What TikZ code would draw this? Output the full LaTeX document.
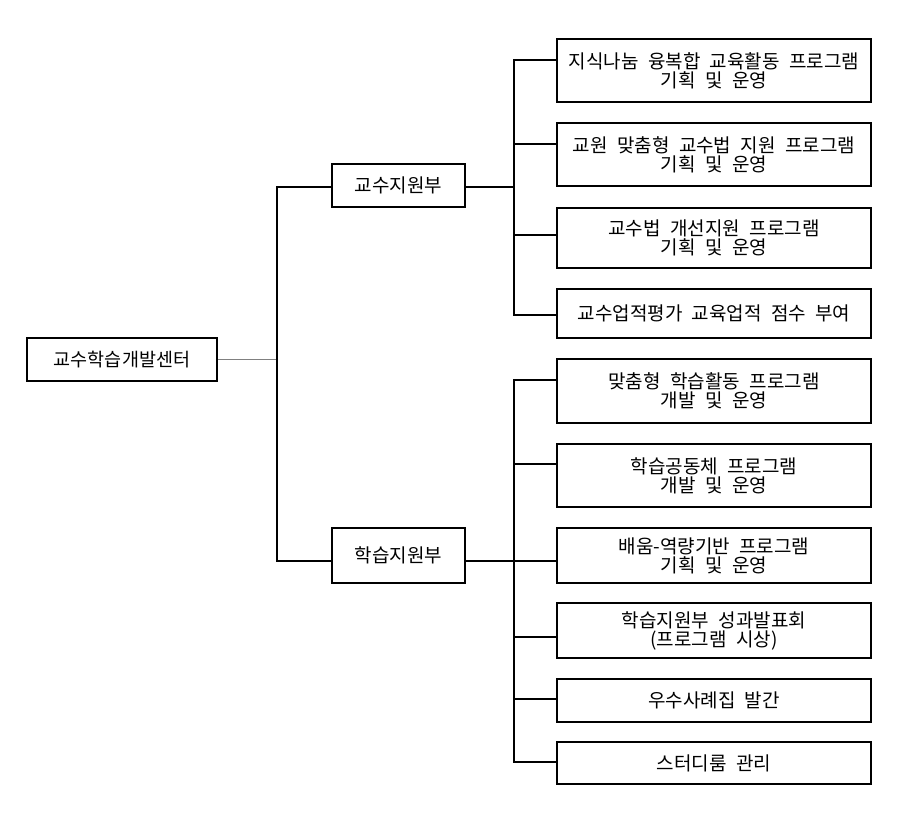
\documentclass[tikz,border=0pt]{standalone}
\usepackage{fontspec}
\newfontfamily\kr[WordSpace=2.2]{Noto Sans CJK KR}
\tikzset{
  box/.style={draw, line width=2pt, fill=white, align=center, inner sep=0pt,
    font=\kr\fontsize{19}{19}\selectfont},
  item/.style={box, minimum width=314pt},
  link/.style={line width=2pt},
  rootlink/.style={line width=1pt, gray}
}
\begin{document}
\begin{tikzpicture}[x=1pt,y=-1pt]
        \useasboundingbox (0,0) rectangle (900,819);
        \node[box, minimum width=190pt, minimum height=43pt, font=\kr\fontsize{18.5}{19}\selectfont] (center) at (122,359.5) {교수학습개발센터};
        \node[box, minimum width=133pt, minimum height=43pt] (kyosu) at (398.5,185.5) {교수지원부};
        \node[box, minimum width=133pt, minimum height=55pt] (hakseup) at (398.5,555.5) {학습지원부};
        \node[item, minimum height=63pt] (ka) at (714,70.5) {지식나눔 융복합 교육활동 프로그램\\기획 및 운영};
        \node[item, minimum height=63pt] (kb) at (714,154.5) {교원 맞춤형 교수법 지원 프로그램\\기획 및 운영};
        \node[item, minimum height=60pt] (kc) at (714,238) {교수법 개선지원 프로그램\\기획 및 운영};
        \node[item, minimum height=49pt] (kd) at (714,313.5) {교수업적평가 교육업적 점수 부여};
        \node[item, minimum height=64pt] (ha) at (714,391) {맞춤형 학습활동 프로그램\\개발 및 운영};
        \node[item, minimum height=63pt] (hb) at (714,475.5) {학습공동체 프로그램\\개발 및 운영};
        \node[item, minimum height=55pt] (hc) at (714,555.5) {배움-역량기반 프로그램\\기획 및 운영};
        \node[item, minimum height=55pt] (hd) at (714,630.5) {학습지원부 성과발표회\\(프로그램 시상)};
        \node[item, minimum height=43pt] (he) at (714,700.5) {우수사례집 발간};
        \node[item, minimum height=42pt] (hf) at (714,763) {스터디룸 관리};
        \coordinate (l1) at (277,187);
        \coordinate (l2) at (277,561);
        \coordinate (ka1) at (514,60);
        \coordinate (kb1) at (514,144);
        \coordinate (kc1) at (514,235);
        \coordinate (kd1) at (514,315);
        \coordinate (ha1) at (514,380);
        \coordinate (hb1) at (514,464);
        \coordinate (hc1) at (514,561);
        \coordinate (hd1) at (514,637);
        \coordinate (he1) at (514,699);
        \coordinate (hf1) at (514,762);
        \draw[rootlink] (center.east) -- (center.east -| l1);
        \draw[link] (l1 -| kyosu.west) -- (l1) -- (l2) -- (l2 -| hakseup.west);
        \draw[link] (kyosu.east |- 0,187) -- (0,187 -| ka1);
        \draw[link] (hakseup.east |- hc1) -- (hc1);
        \draw[link] (ka1 -| ka.west) -- (ka1) -- (kd1) -- (kd1 -| kd.west);
        \draw[link] (kb1) -- (kb1 -| kb.west);
        \draw[link] (kc1) -- (kc1 -| kc.west);
        \draw[link] (ha1 -| ha.west) -- (ha1) -- (hf1) -- (hf1 -| hf.west);
        \draw[link] (hb1) -- (hb1 -| hb.west);
        \draw[link] (hc1) -- (hc1 -| hc.west);
        \draw[link] (hd1) -- (hd1 -| hd.west);
        \draw[link] (he1) -- (he1 -| he.west);
    \end{tikzpicture}
\end{document}
